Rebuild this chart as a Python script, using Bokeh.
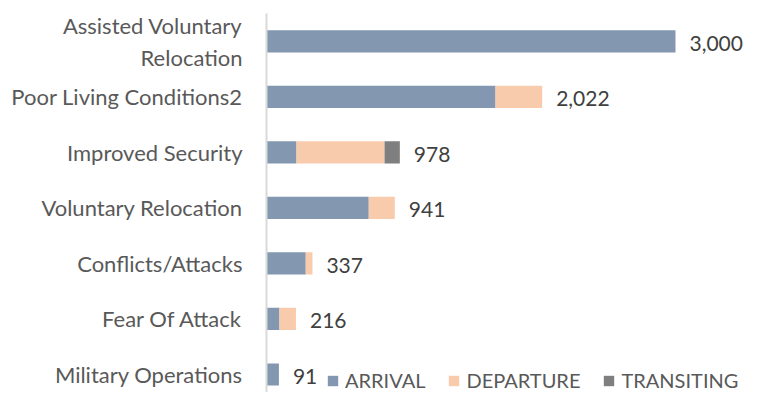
from bokeh.plotting import figure
from bokeh.models import ColumnDataSource, Range1d, Legend, LegendItem, FixedTicker
from bokeh.core.properties import value
from bokeh.embed import file_html
from bokeh.resources import INLINE

categories = ["Military Operations", "Fear Of Attack", "Conflicts/Attacks",
              "Voluntary Relocation", "Improved Security",
              "Poor Living Conditions2", "Assisted Voluntary\nRelocation"]
arrival = [91, 95, 288, 750, 220, 1680, 3000]
departure = [0, 121, 49, 191, 646, 342, 0]
transiting = [0, 0, 0, 0, 112, 0, 0]
totals = [91, 216, 337, 941, 978, 2022, 3000]
total_labels = ["91", "216", "337", "941", "978", "2,022", "3,000"]
series = ["ARRIVAL", "DEPARTURE", "TRANSITING"]
colors = ["#8497B0", "#F8CBAD", "#7F7F7F"]

pos = list(range(len(categories)))
source = ColumnDataSource(dict(pos=pos, cat=categories, ARRIVAL=arrival, DEPARTURE=departure,
                               TRANSITING=transiting, total=totals, label=total_labels))

FONT = "Lato"

p = figure(width=743, height=392, y_range=Range1d(-0.324, 6.5),
           x_range=Range1d(0, 3499), output_backend="svg", toolbar_location=None,
           min_border_left=266, min_border_right=0, min_border_top=13, min_border_bottom=0)

renderers = p.hbar_stack(series, y="pos", height=0.4, color=colors, source=source, line_width=0)

p.text(x="total", y="pos", text="label", source=source, x_offset=14, y_offset=2,
       text_align="left", text_baseline="middle", text_color="#404040",
       text_font=value(FONT), text_font_size="21px")

p.xaxis.visible = False
p.xgrid.visible = False
p.ygrid.visible = False
p.outline_line_color = None
p.yaxis.ticker = FixedTicker(ticks=pos)
p.yaxis.major_label_overrides = {i: c for i, c in zip(pos, categories)}
p.yaxis.axis_line_color = "#d9d9d9"
p.yaxis.axis_line_width = 2
p.yaxis.major_tick_line_color = None
p.yaxis.minor_tick_line_color = None
p.yaxis.major_label_standoff = 18
p.yaxis.major_label_text_font = FONT
p.yaxis.major_label_text_font_size = "22px"
p.yaxis.major_label_text_color = "#595959"

legend = Legend(items=[LegendItem(label=s, renderers=[r]) for s, r in zip(series, renderers)],
                orientation="horizontal", location=(60, 0), padding=0, margin=0,
                border_line_color=None, background_fill_alpha=0,
                glyph_width=13, glyph_height=13, label_standoff=6, spacing=22,
                label_text_font=FONT, label_text_font_size="20px", label_text_color="#595959")
p.add_layout(legend, "center")

open("out.html", "w").write(file_html(p, INLINE))
